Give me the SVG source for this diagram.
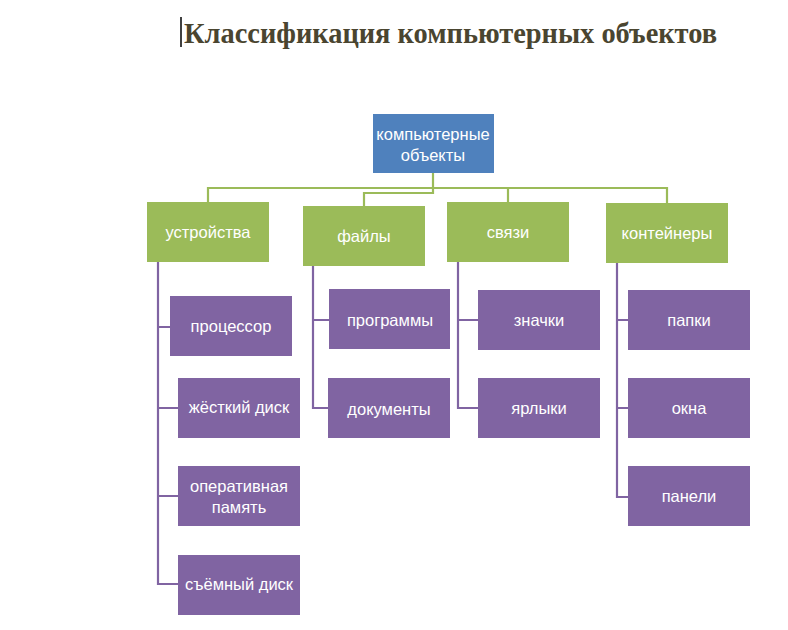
<svg xmlns="http://www.w3.org/2000/svg" width="788" height="630" viewBox="0 0 788 630">
<style>
.t{font-family:"Liberation Sans",Arial,sans-serif;font-size:16.5px;fill:#fff;text-anchor:middle}
.title{font-family:"Liberation Serif","Times New Roman",serif;font-size:29px;font-weight:bold;fill:#4a4530}
.g{fill:#9bbb59}
.p{fill:#8064a2}
.b{fill:#4f81bd}
.cg{fill:none;stroke:#9bbb59;stroke-width:2.2}
.cp{fill:none;stroke:#8064a2;stroke-width:2.2}
</style>
<rect width="788" height="630" fill="#fff"/>
<line x1="181" y1="17" x2="181" y2="47" stroke="#000" stroke-width="1.5"/>
<text class="title" x="184" y="43" textLength="533" lengthAdjust="spacingAndGlyphs">Классификация компьютерных объектов</text>
<g id="connectors">
<path class="cg" d="M433 173V188M208 202V188H667V203M508 188V202M433 188V193H364V206"/>
<path class="cp" d="M158 262V584H178M158 327H170M158 408H178M158 496H178"/>
<path class="cp" d="M313 266V408H328M313 320H329"/>
<path class="cp" d="M458 262V408H478M458 320H478"/>
<path class="cp" d="M617 263V497H628M617 320H628M617 408H628"/>
</g>
<g id="root"><rect class="b" x="373" y="114" width="121" height="59"/><text class="t" x="433" y="140">компьютерные</text><text class="t" x="433" y="161">объекты</text></g>
<g id="n-devices"><rect class="g" x="147" y="202" width="122" height="60"/><text class="t" x="208" y="238">устройства</text></g>
<g id="n-files"><rect class="g" x="303" y="206" width="122" height="60"/><text class="t" x="364" y="242">файлы</text></g>
<g id="n-links"><rect class="g" x="447" y="202" width="122" height="60"/><text class="t" x="508" y="238">связи</text></g>
<g id="n-containers"><rect class="g" x="606" y="203" width="122" height="60"/><text class="t" x="667" y="239">контейнеры</text></g>
<g id="n-cpu"><rect class="p" x="170" y="296" width="122" height="60"/><text class="t" x="231" y="332">процессор</text></g>
<g id="n-hdd"><rect class="p" x="178" y="378" width="122" height="60"/><text class="t" x="239" y="413">жёсткий диск</text></g>
<g id="n-ram"><rect class="p" x="178" y="466" width="122" height="60"/><text class="t" x="239" y="492">оперативная</text><text class="t" x="239" y="513">память</text></g>
<g id="n-usb"><rect class="p" x="178" y="555" width="122" height="60"/><text class="t" x="239" y="590">съёмный диск</text></g>
<g id="n-programs"><rect class="p" x="329" y="289" width="121" height="60"/><text class="t" x="390" y="326">программы</text></g>
<g id="n-docs"><rect class="p" x="328" y="378" width="122" height="60"/><text class="t" x="389" y="415">документы</text></g>
<g id="n-icons"><rect class="p" x="478" y="290" width="122" height="60"/><text class="t" x="539" y="326">значки</text></g>
<g id="n-shortcuts"><rect class="p" x="478" y="378" width="122" height="60"/><text class="t" x="539" y="414">ярлыки</text></g>
<g id="n-folders"><rect class="p" x="628" y="290" width="122" height="60"/><text class="t" x="689" y="326">папки</text></g>
<g id="n-windows"><rect class="p" x="628" y="378" width="122" height="60"/><text class="t" x="689" y="414">окна</text></g>
<g id="n-panels"><rect class="p" x="628" y="466" width="122" height="60"/><text class="t" x="689" y="502">панели</text></g>
</svg>
